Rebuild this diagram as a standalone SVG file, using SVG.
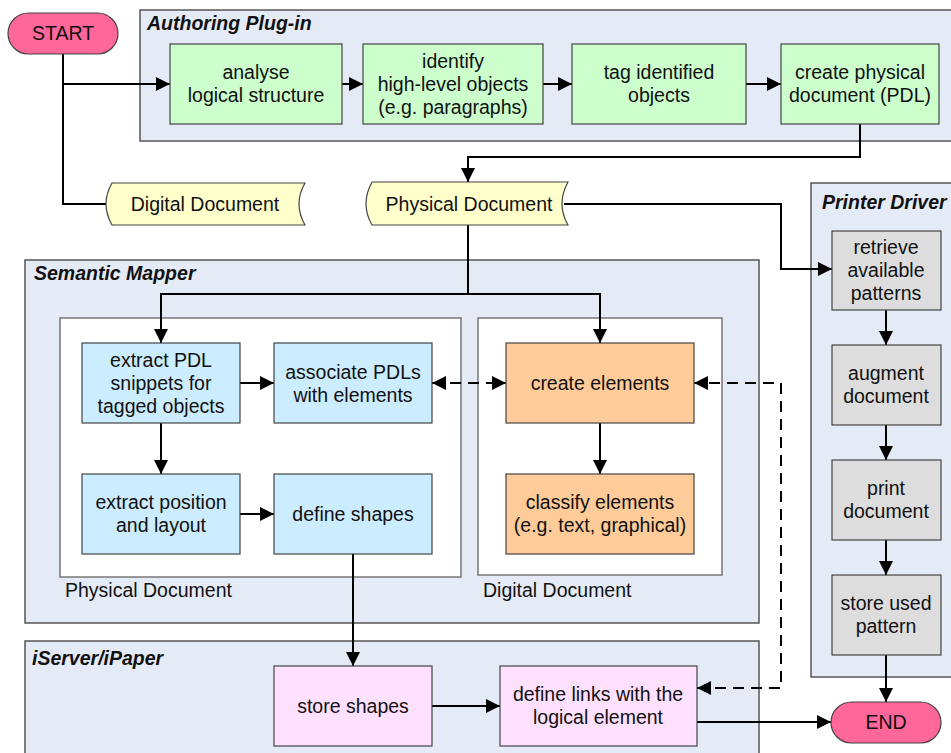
<svg xmlns="http://www.w3.org/2000/svg" width="951" height="753" viewBox="0 0 951 753">
<defs>
<marker id="ah" markerUnits="userSpaceOnUse" markerWidth="14" markerHeight="14" refX="14" refY="7" orient="auto-start-reverse" viewBox="0 0 14 14">
<path d="M0,0 L14,7 L0,14 z" fill="#000"/>
</marker>
<style>
text{font-family:"Liberation Sans",Arial,sans-serif;font-size:19.5px;fill:#111}
.c{text-anchor:middle}
.title{font-weight:bold;font-style:italic}
.cont{fill:#E5EBF6;stroke:#555;stroke-width:1.5}
.inner{fill:#fff;stroke:#777;stroke-width:1.5}
.box{stroke:#444;stroke-width:1.2}
.g{fill:#CCFFCC}.b{fill:#CCECFF}.o{fill:#FFCC99}.gr{fill:#DDDDDD}.p{fill:#FFE0FF}
.term{fill:#FF6699;stroke:#444;stroke-width:1.2}
.doc{fill:#FFFFCC;stroke:#444;stroke-width:1.2}
.ln{fill:none;stroke:#000;stroke-width:2}
.arr{marker-end:url(#ah)}
.dash{stroke-dasharray:11 7}
</style>
</defs>
<rect width="951" height="753" fill="#fff"/>

<g id="authoring-plugin">
<rect class="cont" x="140" y="10" width="820" height="131"/>
<text class="title" x="147" y="30">Authoring Plug-in</text>
</g>
<g id="printer-driver">
<rect class="cont" x="811" y="183" width="150" height="494"/>
<text class="title" x="822" y="209">Printer Driver</text>
</g>
<g id="semantic-mapper">
<rect class="cont" x="25" y="260" width="734" height="363"/>
<text class="title" x="34" y="280">Semantic Mapper</text>
<rect class="inner" x="60" y="318" width="401" height="259"/>
<text x="65" y="597">Physical Document</text>
<rect class="inner" x="478" y="318" width="244" height="257"/>
<text x="483" y="597">Digital Document</text>
</g>
<g id="iserver-ipaper">
<rect class="cont" x="25" y="641" width="734" height="125"/>
<text class="title" x="32" y="665">iServer/iPaper</text>
</g>

<g id="connectors">
<path class="ln" d="M63,54 V204 H106"/>
<path class="ln arr" d="M63,84 H170"/>
<path class="ln arr" d="M342,84 H363"/>
<path class="ln arr" d="M543,84 H572"/>
<path class="ln arr" d="M746,84 H781"/>
<path class="ln arr" d="M860,124 V157 H468 V182"/>
<path class="ln arr" d="M564,204 H781 V269 H832"/>
<path class="ln" d="M468,225 V294"/>
<path class="ln arr" d="M468,294 H161 V343"/>
<path class="ln arr" d="M468,294 H600 V343"/>
<path class="ln arr" d="M240,383 H274"/>
<path class="ln arr" d="M161,423 V474"/>
<path class="ln arr" d="M240,514 H274"/>
<path class="ln arr" d="M600,423 V474"/>
<path class="ln arr dash" style="marker-start:url(#ah)" d="M432,383 H506"/>
<path class="ln arr dash" style="marker-start:url(#ah)" d="M697,688 H781 V383 H694"/>
<path class="ln arr" d="M353,554 V666"/>
<path class="ln arr" d="M432,706 H500"/>
<path class="ln arr" d="M697,722 H831"/>
<path class="ln arr" d="M886,310 V345"/>
<path class="ln arr" d="M886,425 V460"/>
<path class="ln arr" d="M886,540 V575"/>
<path class="ln arr" d="M886,655 V702"/>
</g>

<g id="start">
<rect class="term" x="8" y="13" width="110" height="41" rx="20.5"/>
<text class="c" x="63" y="40">START</text>
</g>
<g id="end">
<rect class="term" x="831" y="702" width="110" height="41" rx="20.5"/>
<text class="c" x="886" y="729">END</text>
</g>

<g id="digital-document">
<path class="doc" d="M112,183 H305 Q293,204 305,225 H112 Q100,204 112,183 z"/>
<text class="c" x="205" y="211">Digital Document</text>
</g>
<g id="physical-document">
<path class="doc" d="M372,182 H568 Q556,204 568,225 H372 Q360,204 372,182 z"/>
<text class="c" x="469" y="211">Physical Document</text>
</g>

<g id="analyse">
<rect class="box g" x="170" y="44" width="172" height="80"/>
<text class="c" x="256" y="79">analyse</text>
<text class="c" x="256" y="102">logical structure</text>
</g>
<g id="identify">
<rect class="box g" x="363" y="44" width="180" height="80"/>
<text class="c" x="453" y="68">identify</text>
<text class="c" x="453" y="91">high-level objects</text>
<text class="c" x="453" y="114">(e.g. paragraphs)</text>
</g>
<g id="tag">
<rect class="box g" x="572" y="44" width="174" height="80"/>
<text class="c" x="659" y="79">tag identified</text>
<text class="c" x="659" y="102">objects</text>
</g>
<g id="create-physical">
<rect class="box g" x="781" y="44" width="158" height="80"/>
<text class="c" x="860" y="79">create physical</text>
<text class="c" x="860" y="102">document (PDL)</text>
</g>

<g id="extract-pdl">
<rect class="box b" x="82" y="343" width="158" height="80"/>
<text class="c" x="161" y="367">extract PDL</text>
<text class="c" x="161" y="390">snippets for</text>
<text class="c" x="161" y="413">tagged objects</text>
</g>
<g id="associate">
<rect class="box b" x="274" y="343" width="158" height="80"/>
<text class="c" x="353" y="379">associate PDLs</text>
<text class="c" x="353" y="402">with elements</text>
</g>
<g id="extract-position">
<rect class="box b" x="82" y="474" width="158" height="80"/>
<text class="c" x="161" y="509">extract position</text>
<text class="c" x="161" y="532">and layout</text>
</g>
<g id="define-shapes">
<rect class="box b" x="274" y="474" width="158" height="80"/>
<text class="c" x="353" y="521">define shapes</text>
</g>
<g id="create-elements">
<rect class="box o" x="506" y="343" width="188" height="80"/>
<text class="c" x="600" y="390">create elements</text>
</g>
<g id="classify">
<rect class="box o" x="506" y="474" width="188" height="80"/>
<text class="c" x="600" y="509">classify elements</text>
<text class="c" x="600" y="532">(e.g. text, graphical)</text>
</g>

<g id="retrieve">
<rect class="box gr" x="832" y="231" width="109" height="79"/>
<text class="c" x="886" y="254">retrieve</text>
<text class="c" x="886" y="277">available</text>
<text class="c" x="886" y="300">patterns</text>
</g>
<g id="augment">
<rect class="box gr" x="832" y="345" width="109" height="80"/>
<text class="c" x="886" y="380">augment</text>
<text class="c" x="886" y="403">document</text>
</g>
<g id="print">
<rect class="box gr" x="832" y="460" width="109" height="80"/>
<text class="c" x="886" y="495">print</text>
<text class="c" x="886" y="518">document</text>
</g>
<g id="store-used">
<rect class="box gr" x="832" y="575" width="109" height="80"/>
<text class="c" x="886" y="610">store used</text>
<text class="c" x="886" y="633">pattern</text>
</g>

<g id="store-shapes">
<rect class="box p" x="274" y="666" width="158" height="80"/>
<text class="c" x="353" y="713">store shapes</text>
</g>
<g id="define-links">
<rect class="box p" x="500" y="666" width="197" height="80"/>
<text class="c" x="598" y="701">define links with the</text>
<text class="c" x="598" y="724">logical element</text>
</g>
</svg>
